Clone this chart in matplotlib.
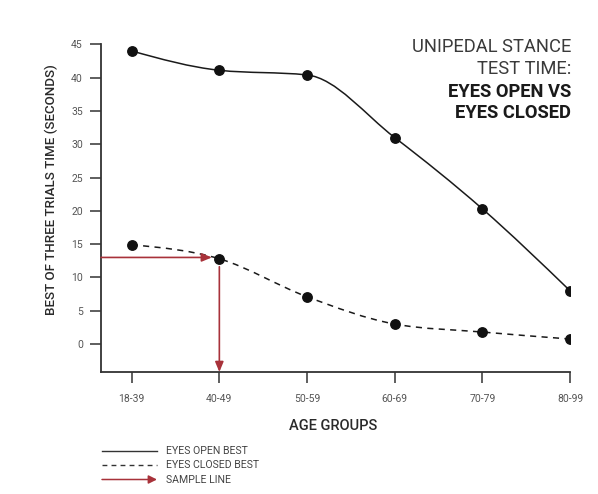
import numpy as np
import matplotlib
matplotlib.use("Agg")
import matplotlib.pyplot as plt
from matplotlib.path import Path
from matplotlib.patches import PathPatch, FancyArrowPatch
from matplotlib.lines import Line2D

age_groups = ["18-39", "40-49", "50-59", "60-69", "70-79", "80-99"]
eyes_open = [44.0, 41.1, 40.4, 31.0, 20.3, 8.0]
eyes_closed = [14.9, 12.8, 7.1, 3.0, 1.8, 0.75]
sample_value = 13
sample_group = 1
y_ticks = [0, 5, 10, 15, 20, 25, 30, 35, 40, 45]

W, H = 598, 494
fig = plt.figure(figsize=(W / 100, H / 100), dpi=100)
fig.patch.set_facecolor("white")
ax = fig.add_axes([101 / W, 1 - 372 / H, (570 - 101) / W, (372 - 44.3) / H])

FONT = ["Roboto", "DejaVu Sans"]
INK = "#2a2a2a"
RED = "#a8323a"


def monotone_path(xs, ys):
    xs = np.asarray(xs, float)
    ys = np.asarray(ys, float)
    n = len(xs)
    h = np.diff(xs)
    s = np.diff(ys) / h
    m = np.zeros(n)
    for i in range(1, n - 1):
        p = (s[i - 1] * h[i] + s[i] * h[i - 1]) / (h[i - 1] + h[i])
        m[i] = (np.sign(s[i - 1]) + np.sign(s[i])) * min(abs(s[i - 1]), abs(s[i]), 0.5 * abs(p))
    m[0] = (3 * s[0] - m[1]) / 2
    m[-1] = (3 * s[-1] - m[-2]) / 2
    verts = [(xs[0], ys[0])]
    codes = [Path.MOVETO]
    for i in range(n - 1):
        d = h[i] / 3
        verts += [(xs[i] + d, ys[i] + d * m[i]),
                  (xs[i + 1] - d, ys[i + 1] - d * m[i + 1]),
                  (xs[i + 1], ys[i + 1])]
        codes += [Path.CURVE4] * 3
    return Path(verts, codes)


x = np.arange(len(age_groups))
ax.add_patch(PathPatch(monotone_path(x, eyes_open), fill=False, color="#1a1a1a", lw=1.1))
ax.add_patch(PathPatch(monotone_path(x, eyes_closed), fill=False, color="#1a1a1a", lw=1.1,
                       linestyle=(0, (4, 3.5))))
ax.plot(x, eyes_open, "o", color="#111111", ms=6.8, zorder=5)
ax.plot(x, eyes_closed, "o", color="#111111", ms=6.8, zorder=5)

ax.set_xlim(-0.35, 5)
ax.set_ylim(-4.2, 45)

# sample line arrows
ax.annotate("", xy=(sample_group - 0.085, sample_value), xytext=(-0.35, sample_value),
            arrowprops=dict(arrowstyle="-|>,head_length=0.6,head_width=0.25", color=RED, lw=1.2,
                            shrinkA=0, shrinkB=0), zorder=4)
ax.annotate("", xy=(sample_group, -4.2), xytext=(sample_group, sample_value - 1.4),
            arrowprops=dict(arrowstyle="-|>,head_length=0.6,head_width=0.25", color=RED, lw=1.2,
                            shrinkA=0, shrinkB=0), zorder=4, annotation_clip=False)

ax.set_xticks(x)
ax.set_xticklabels(age_groups)
ax.set_yticks(y_ticks)
for sp in ["top", "right"]:
    ax.spines[sp].set_visible(False)
for sp in ["left", "bottom"]:
    ax.spines[sp].set_color("#333333")
    ax.spines[sp].set_linewidth(1.3)
ax.spines["left"].set_bounds(-4.2, 45)
ax.tick_params(axis="both", colors="#333333", length=8, width=1.1, labelsize=7.5,
               labelcolor="#555555", pad=5)
ax.tick_params(axis="x", pad=8)
for lab in ax.get_xticklabels() + ax.get_yticklabels():
    lab.set_family(FONT)

ax.set_ylabel("BEST OF THREE TRIALS TIME (SECONDS)", fontsize=9.6, color=INK, family=FONT,
              fontweight="medium")
ax.yaxis.set_label_coords(-43 / (570 - 101), (372 - 190) / (372 - 44.3))
fig.text(333 / W, 1 - 426 / H, "AGE GROUPS", ha="center", va="center", fontsize=10.5,
         color=INK, family=FONT, fontweight="medium")

# title block
tx = 571 / W
fig.text(tx, 1 - 46.5 / H, "UNIPEDAL STANCE", ha="right", va="center", fontsize=13.2,
         color="#3a3a3a", family=FONT, fontweight="normal")
fig.text(tx, 1 - 69 / H, "TEST TIME:", ha="right", va="center", fontsize=13.2,
         color="#3a3a3a", family=FONT, fontweight="normal")
fig.text(tx, 1 - 91.5 / H, "EYES OPEN VS", ha="right", va="center", fontsize=13.2,
         color="#1a1a1a", family=FONT, fontweight="bold")
fig.text(tx, 1 - 113.5 / H, "EYES CLOSED", ha="right", va="center", fontsize=13.2,
         color="#1a1a1a", family=FONT, fontweight="bold")

# legend
lx0, lx1, tx0 = 102 / W, 157 / W, 166 / W
rows = [451 / H, 465 / H, 479.5 / H]
labels = ["EYES OPEN BEST", "EYES CLOSED BEST", "SAMPLE LINE"]
fig.add_artist(Line2D([lx0, lx1], [1 - rows[0]] * 2, color="#333333", lw=1.0))
fig.add_artist(Line2D([lx0, lx1], [1 - rows[1]] * 2, color="#333333", lw=1.0,
                      linestyle=(0, (3.5, 3))))
fig.add_artist(FancyArrowPatch((lx0, 1 - rows[2]), (lx1, 1 - rows[2]), transform=fig.transFigure,
                               arrowstyle="-|>,head_length=5,head_width=2.5", color=RED, lw=1.1,
                               shrinkA=0, shrinkB=0))
for r, t in zip(rows, labels):
    fig.text(tx0, 1 - r, t, ha="left", va="center", fontsize=7.6, color="#444444", family=FONT)

fig.savefig("out.png", dpi=100, facecolor="white")
